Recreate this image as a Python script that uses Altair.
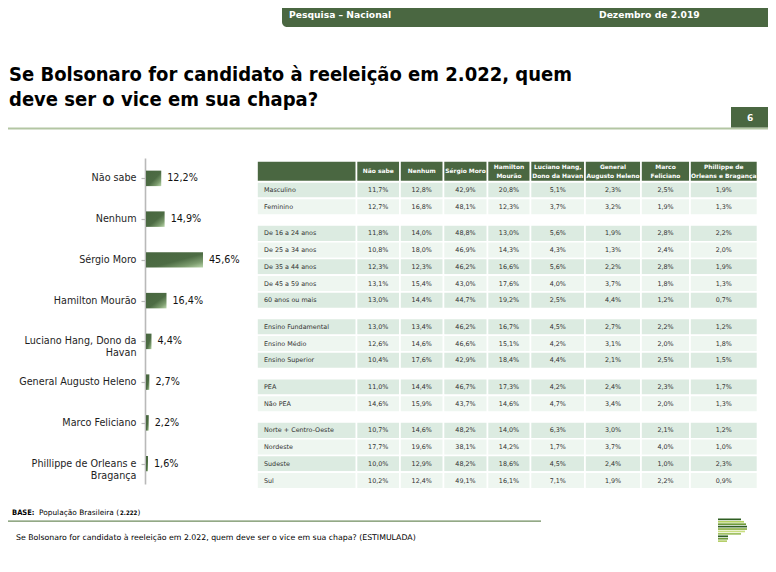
import altair as alt
import pandas as pd

# ---------------- data ----------------
candidates = ["Não sabe", "Nenhum", "Sérgio Moro", "Hamilton Mourão",
              "Luciano Hang, Dono da\nHavan", "General Augusto Heleno",
              "Marco Feliciano", "Phillippe de Orleans e\nBragança"]
totals = [12.2, 14.9, 45.6, 16.4, 4.4, 2.7, 2.2, 1.6]

table_headers = ["", "Não sabe", "Nenhum", "Sérgio Moro", "Hamilton\nMourão",
                 "Luciano Hang,\nDono da Havan", "General\nAugusto Heleno",
                 "Marco\nFeliciano", "Phillippe de\nOrleans e Bragança"]

segments_sexo = ["Masculino", "Feminino"]
segments_idade = ["De 16 a 24 anos", "De 25 a 34 anos", "De 35 a 44 anos",
                  "De 45 a 59 anos", "60 anos ou mais"]
segments_escolaridade = ["Ensino Fundamental", "Ensino Médio", "Ensino Superior"]
segments_pea = ["\u00a0PEA", "\u00a0Não PEA"]
segments_regiao = ["Norte + Centro-Oeste", "Nordeste", "Sudeste", "Sul"]

nao_sabe = [11.7, 12.7, 11.8, 10.8, 12.3, 13.1, 13.0, 13.0, 12.6, 10.4, 11.0, 14.6, 10.7, 17.7, 10.0, 10.2]
nenhum = [12.8, 16.8, 14.0, 18.0, 12.3, 15.4, 14.4, 13.4, 14.6, 17.6, 14.4, 15.9, 14.6, 19.6, 12.9, 12.4]
sergio_moro = [42.9, 48.1, 48.8, 46.9, 46.2, 43.0, 44.7, 46.2, 46.6, 42.9, 46.7, 43.7, 48.2, 38.1, 48.2, 49.1]
hamilton_mourao = [20.8, 12.3, 13.0, 14.3, 16.6, 17.6, 19.2, 16.7, 15.1, 18.4, 17.3, 14.6, 14.0, 14.2, 18.6, 16.1]
luciano_hang = [5.1, 3.7, 5.6, 4.3, 5.6, 4.0, 2.5, 4.5, 4.2, 4.4, 4.2, 4.7, 6.3, 1.7, 4.5, 7.1]
augusto_heleno = [2.3, 3.2, 1.9, 1.3, 2.2, 3.7, 4.4, 2.7, 3.1, 2.1, 2.4, 3.4, 3.0, 3.7, 2.4, 1.9]
marco_feliciano = [2.5, 1.9, 2.8, 2.4, 2.8, 1.8, 1.2, 2.2, 2.0, 2.5, 2.3, 2.0, 2.1, 4.0, 1.0, 2.2]
phillippe = [1.9, 1.3, 2.2, 2.0, 1.9, 1.3, 0.7, 1.2, 1.8, 1.5, 1.7, 1.3, 1.2, 1.0, 2.3, 0.9]

title_line1 = "Se Bolsonaro for candidato à reeleição em 2.022, quem"
title_line2 = "deve ser o vice em sua chapa?"
header_left = "Pesquisa – Nacional"
header_right = "Dezembro de 2.019"
page_number = "6"
base_label = "BASE:"
base_text = "População Brasileira ("
base_n = "2.222"
base_close = ")"
question = "Se Bolsonaro for candidato à reeleição em 2.022, quem deve ser o vice em sua chapa? (ESTIMULADA)"

logo_lengths = [23, 26, 28, 29, 29, 27, 23, 10, 10, 9]
logo_colors = ["#2f5e22", "#b3d060", "#6f9a3a", "#2f5e22", "#8db04a",
               "#c9de80", "#9fc060", "#2f5e22", "#6f9a3a", "#b5cf6a"]

# ---------------- layout / style ----------------
W, H = 760, 556
OX, OY = 8, 8
GREEN = "#4a6741"
COND = "DejaVu Sans Condensed, DejaVu Sans"
SANS = "DejaVu Sans"
ROW_DARK, ROW_LIGHT = "#dcebe1", "#eef6f0"
table_col_widths = [99.5, 43.5, 43.5, 44, 43, 54.5, 56, 49, 67.5]
ROW_H = 16.7
GAP = 10 / ROW_H
HEAD_LINE_H = 8.7


def pct(v):
    return f"{v:.1f}".replace(".", ",") + "%"


ONE = pd.DataFrame({"k": [0]})


def text_at(txt, x, y, size, bold=False, color="#000", align="left", font=SANS, baseline="alphabetic"):
    return alt.Chart(ONE).mark_text(
        text=txt, font=font, fontSize=size, fontWeight="bold" if bold else "normal",
        color=color, align=align, baseline=baseline
    ).encode(x=alt.value(x - OX), y=alt.value(y - OY))


def rect_at(x0, x1, y0, y1, color, **kw):
    return alt.Chart(ONE).mark_rect(color=color, **kw).encode(
        x=alt.value(x0 - OX), x2=alt.value(x1 - OX), y=alt.value(y0 - OY), y2=alt.value(y1 - OY))


layers = []

# decorations
layers.append(rect_at(282, 772, 0, 27, GREEN, cornerRadiusBottomLeft=5))
layers.append(text_at(header_left, 289, 18, 9.2, bold=True, color="white"))
layers.append(text_at(header_right, 599, 18, 9.2, bold=True, color="white"))
layers.append(text_at(title_line1, 9, 81, 20, bold=True, font=COND))
layers.append(text_at(title_line2, 9, 106, 20, bold=True, font=COND))
layers.append(rect_at(8, 772, 127.5, 129.5, "#b3c6a3"))
layers.append(rect_at(731, 772, 107, 127.5, GREEN))
layers.append(text_at(page_number, 750, 121, 9, bold=True, color="white", align="center"))
layers.append(rect_at(8, 541, 520.5, 521.7, "#6f8c5e"))
layers.append(text_at(base_label, 12, 515, 7.5, bold=True, font=COND))
layers.append(text_at(base_text, 39, 515, 7.4, font=SANS))
layers.append(text_at(base_n, 120, 515, 6.1, bold=True, font=COND))
layers.append(text_at(base_close, 137.5, 515, 7.4, font=SANS))
layers.append(text_at(question, 16, 540, 7.8, font=SANS))

# ---------------- bar chart ----------------
bars = pd.DataFrame({"cand": candidates, "value": totals,
                     "label": [pct(v) for v in totals]})
y_range = [158 - OY, 484 - OY]
x_bar = alt.X("value:Q", scale=alt.Scale(domain=[0, 100], range=[146 - OX, 146 + 125 - OX],
                                          nice=False, zero=True), axis=None)

tick_layer = alt.Chart(bars).mark_point(opacity=0).encode(
    y=alt.Y("cand:N", sort=candidates,
            scale=alt.Scale(domain=candidates, range=y_range, paddingInner=0, paddingOuter=0),
            axis=alt.Axis(orient="left", offset=-(145 - OX), labels=False, ticks=True,
                          tickSize=4, bandPosition=0, domain=True, domainColor="#b9b9b9",
                          domainWidth=1.6, tickColor="#b9b9b9", tickWidth=1.2,
                          grid=False, title=None)))

y_bar = alt.Y("cand:N", sort=candidates,
              scale=alt.Scale(domain=candidates, range=y_range, paddingInner=0.62, paddingOuter=0.31),
              axis=alt.Axis(orient="left", offset=-(145 - OX), labels=True, ticks=False, tickSize=0,
                            domain=False, labelPadding=9, labelFont=COND, labelFontSize=10.7,
                            labelColor="#1e1e1e", labelLimit=220, labelLineHeight=12,
                            labelExpr="split(datum.label, '\\n')", grid=False, title=None))

grad = alt.LinearGradient(
    gradient="linear", x1=0, y1=0, x2=1, y2=1,
    stops=[alt.GradientStop(color="#48663f", offset=0),
           alt.GradientStop(color="#4d6c44", offset=0.55),
           alt.GradientStop(color="#7d9d6f", offset=0.8),
           alt.GradientStop(color="#bcd8ad", offset=1)])

bar_layer = alt.Chart(bars).mark_bar(color=grad).encode(x=x_bar, y=y_bar)
bar_text = alt.Chart(bars).mark_text(align="left", baseline="middle", dx=6, font=COND,
                                     fontSize=10.7, color="#111").encode(
    x=x_bar,
    y=alt.Y("cand:N", sort=candidates,
            scale=alt.Scale(domain=candidates, range=y_range, paddingInner=0.62, paddingOuter=0.31),
            axis=None),
    text="label:N")
layers += [tick_layer, bar_layer, bar_text]

# ---------------- table ----------------
groups = [segments_sexo, segments_idade, segments_escolaridade, segments_pea, segments_regiao]
value_cols = [nao_sabe, nenhum, sergio_moro, hamilton_mourao, luciano_hang,
              augusto_heleno, marco_feliciano, phillippe]
edges = [0]
for w in table_col_widths:
    edges.append(edges[-1] + w)
total_w = edges[-1]

rows = []
r = 0
for g, seg in enumerate(groups):
    for k, name in enumerate(seg):
        top = r + g * GAP
        rows.append(dict(seg=name, top=top, r=r, shade="a" if k % 2 == 0 else "b"))
        r += 1
y_max = rows[-1]["top"] + 1
HEAD_TOP = (161 - 181.65) / ROW_H

cells, values, labels = [], [], []
for row in rows:
    for j in range(len(table_col_widths)):
        cells.append(dict(x0=edges[j], x1=edges[j + 1], y0=row["top"], y1=row["top"] + 1,
                          shade=row["shade"]))
    labels.append(dict(x=0, y=row["top"] + 0.5, text=row["seg"]))
    for j, col in enumerate(value_cols):
        values.append(dict(x=(edges[j + 1] + edges[j + 2]) / 2, y=row["top"] + 0.5,
                           text=pct(col[row["r"]])))
heads = [dict(x0=edges[j], x1=edges[j + 1], xc=(edges[j] + edges[j + 1]) / 2,
              y0=HEAD_TOP, y1=0, yc=HEAD_TOP / 2, text=h, multi="\n" in h)
         for j, h in enumerate(table_headers)]

cells = pd.DataFrame(cells)
values = pd.DataFrame(values)
labels = pd.DataFrame(labels)
heads = pd.DataFrame(heads)

TX = alt.Scale(domain=[0, total_w], range=[257 - OX, 257 + total_w - OX], nice=False, zero=False)
TY = alt.Scale(domain=[0, y_max], range=[181.65 - OY, 181.65 + y_max * ROW_H - OY], nice=False, zero=False)

cell_layer = alt.Chart(cells).mark_rect(stroke="white", strokeWidth=1.6).encode(
    x=alt.X("x0:Q", scale=TX, axis=None), x2="x1:Q",
    y=alt.Y("y0:Q", scale=TY, axis=None), y2="y1:Q",
    color=alt.Color("shade:N", scale=alt.Scale(domain=["a", "b"], range=[ROW_DARK, ROW_LIGHT]),
                    legend=None))
head_layer = alt.Chart(heads).mark_rect(stroke="white", strokeWidth=1.6, color=GREEN).encode(
    x=alt.X("x0:Q", scale=TX, axis=None), x2="x1:Q",
    y=alt.Y("y0:Q", scale=TY, axis=None), y2="y1:Q")


def head_text_layer(multi):
    return alt.Chart(heads[heads["multi"] == multi]).mark_text(
        font=SANS, fontSize=5.95, fontWeight="bold", color="white", align="center",
        baseline="middle", lineBreak="\n", lineHeight=HEAD_LINE_H,
        dy=-HEAD_LINE_H / 2 if multi else 0).encode(
        x=alt.X("xc:Q", scale=TX, axis=None), y=alt.Y("yc:Q", scale=TY, axis=None), text="text:N")


value_text = alt.Chart(values).mark_text(font=SANS, fontSize=6.4, color="#333",
                                         align="center", baseline="middle").encode(
    x=alt.X("x:Q", scale=TX, axis=None), y=alt.Y("y:Q", scale=TY, axis=None), text="text:N")
label_text = alt.Chart(labels).mark_text(font=SANS, fontSize=6.4, color="#333",
                                         align="left", baseline="middle", dx=7).encode(
    x=alt.X("x:Q", scale=TX, axis=None), y=alt.Y("y:Q", scale=TY, axis=None), text="text:N")
layers += [cell_layer, head_layer, head_text_layer(False), head_text_layer(True),
           value_text, label_text]

# ---------------- logo ----------------
logo = pd.DataFrame({"i": list(range(len(logo_lengths))), "len": logo_lengths, "c": logo_colors})
logo_layer = alt.Chart(logo).mark_bar().encode(
    x=alt.X("len:Q", scale=alt.Scale(domain=[0, 30], range=[718 - OX, 748 - OX], nice=False), axis=None),
    y=alt.Y("i:O", scale=alt.Scale(range=[518.5 - OY, 542 - OY], paddingInner=0.3, paddingOuter=0),
            axis=None),
    color=alt.Color("c:N", scale=None))
layers.append(logo_layer)

chart = alt.layer(*layers).resolve_scale(
    x="independent", y="independent", color="independent"
).properties(width=W, height=H, padding=0, autosize="none").configure_view(stroke=None)

chart.save("out.html", embed_options={"renderer": "svg", "actions": False})
